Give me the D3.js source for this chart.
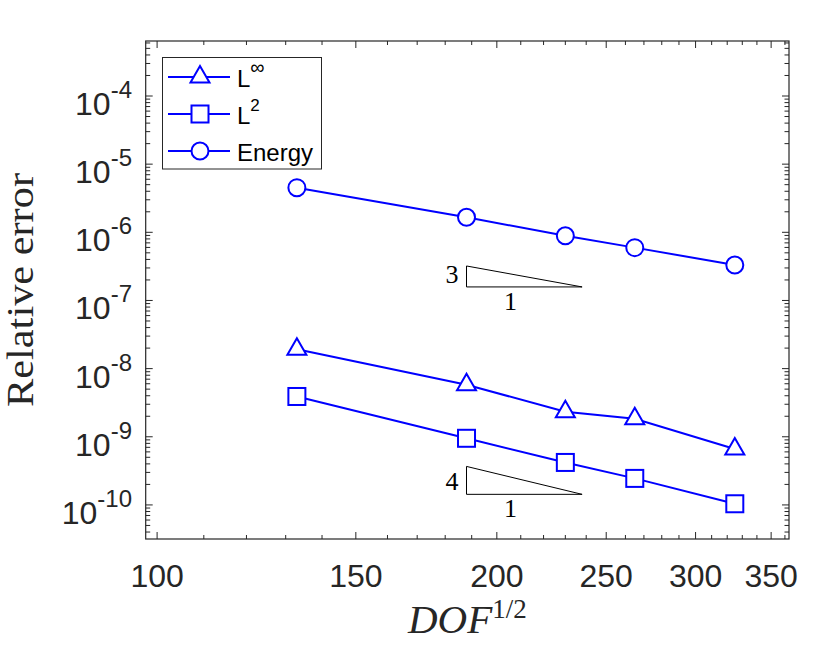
<!DOCTYPE html>
<html>
<head>
<meta charset="utf-8">
<script src="https://cdn.jsdelivr.net/npm/d3@7"></script>
<style>
  body { margin: 0; background: #fff; }
  svg { display: block; }
</style>
</head>
<body>
<svg id="chart" width="831" height="657"></svg>
<script>
// DOF^(1/2) for each refinement level
const dofSqrt = [133, 188, 230, 265, 325];
// relative errors
const errLinf = [1.92e-8, 5.8e-9, 2.33e-9, 1.84e-9, 6.6e-10];
const errL2 = [3.9e-9, 9.5e-10, 4.2e-10, 2.45e-10, 1.04e-10];
const errEnergy = [4.52e-6, 1.66e-6, 8.9e-7, 5.96e-7, 3.32e-7];

const xTickValues = [100, 150, 200, 250, 300, 350];
const yTickExps = [-10, -9, -8, -7, -6, -5, -4];

// slope reference triangles
const slopeTris = [
  { x0: 188, x1: 238, y0: 1.58e-7, order: 3 },
  { x0: 188, x1: 238, y0: 1.43e-10, order: 4 }
];

const series = [
  { name: "L", sup: "\u221e", marker: "tri", values: errLinf },
  { name: "L", sup: "2", marker: "sq", values: errL2 },
  { name: "Energy", sup: null, marker: "circ", values: errEnergy }
];

const box = { l: 145.7, r: 789, t: 41, b: 539 };
const ink = "#262626";
const blue = "#0000ff";

const svg = d3.select("#chart");

const x = d3.scaleLog().domain([97.7, 363]).range([box.l, box.r]);
const y = d3.scaleLog().domain([Math.pow(10, -10.5), Math.pow(10, -3.193)]).range([box.b, box.t]);

// ---- ticks (inward, on all four sides) ----
const minorX = d3.range(100, 370, 10).filter(v => xTickValues.indexOf(v) < 0 && x(v) < box.r);
let minorY = [];
for (let e = -11; e <= -4; e++) {
  for (let m = 2; m <= 9; m++) {
    const v = m * Math.pow(10, e);
    if (y(v) > box.t && y(v) < box.b) minorY.push(v);
  }
}

const ticks = svg.append("g").attr("stroke", ink).attr("stroke-width", 1);
function xTick(v, len) {
  const px = x(v);
  ticks.append("line").attr("x1", px).attr("x2", px).attr("y1", box.b).attr("y2", box.b - len);
  ticks.append("line").attr("x1", px).attr("x2", px).attr("y1", box.t).attr("y2", box.t + len);
}
function yTick(v, len) {
  const py = y(v);
  ticks.append("line").attr("y1", py).attr("y2", py).attr("x1", box.l).attr("x2", box.l + len);
  ticks.append("line").attr("y1", py).attr("y2", py).attr("x1", box.r).attr("x2", box.r - len);
}
xTickValues.forEach(v => xTick(v, 7));
minorX.forEach(v => xTick(v, 4));
yTickExps.forEach(e => yTick(Math.pow(10, e), 7));
minorY.forEach(v => yTick(v, 4.5));

// axis box
svg.append("rect")
  .attr("x", box.l).attr("y", box.t)
  .attr("width", box.r - box.l).attr("height", box.b - box.t)
  .attr("fill", "none").attr("stroke", ink).attr("stroke-width", 1.2);

// ---- tick labels ----
svg.append("g").selectAll("text").data(xTickValues).join("text")
  .attr("x", d => x(d)).attr("y", 587)
  .attr("text-anchor", "middle")
  .attr("font-family", "Liberation Sans, Arial, sans-serif")
  .attr("font-size", 32).attr("fill", ink)
  .text(d => d);

const yl = svg.append("g").selectAll("text").data(yTickExps).join("text")
  .attr("x", 132).attr("y", d => y(Math.pow(10, d)) + 19)
  .attr("text-anchor", "end")
  .attr("font-family", "Liberation Sans, Arial, sans-serif")
  .attr("font-size", 32).attr("fill", ink);
yl.append("tspan").text("10");
yl.append("tspan").attr("dy", -17).attr("font-size", 24).text(d => "-" + Math.abs(d));

// ---- axis titles ----
const xt = svg.append("text")
  .attr("x", (box.l + box.r) / 2).attr("y", 633)
  .attr("text-anchor", "middle")
  .attr("font-family", "Liberation Serif, Times New Roman, serif")
  .attr("font-size", 41).attr("fill", ink);
xt.append("tspan").attr("font-style", "italic").text("DOF");
xt.append("tspan").attr("dy", -15).attr("font-size", 27).text("1/2");

svg.append("text")
  .attr("transform", "translate(33,290) rotate(-90)")
  .attr("text-anchor", "middle")
  .attr("font-family", "Liberation Serif, Times New Roman, serif")
  .attr("font-size", 38).attr("fill", ink)
  .attr("textLength", 234).attr("lengthAdjust", "spacingAndGlyphs")
  .text("Relative error");

// ---- markers ----
function drawMarker(g, kind, cx, cy) {
  const common = s => s.attr("fill", "#fff").attr("stroke", blue).attr("stroke-width", 2);
  if (kind === "tri") {
    common(g.append("path").attr("d", `M${cx},${cy - 11}L${cx + 9.5},${cy + 5.5}L${cx - 9.5},${cy + 5.5}Z`));
  } else if (kind === "sq") {
    common(g.append("rect").attr("x", cx - 8.5).attr("y", cy - 8.5).attr("width", 17).attr("height", 17));
  } else {
    common(g.append("circle").attr("cx", cx).attr("cy", cy).attr("r", 8.5));
  }
}

const line = d3.line().x(d => x(d[0])).y(d => y(d[1]));
series.forEach(s => {
  const pts = dofSqrt.map((d, i) => [d, s.values[i]]);
  const g = svg.append("g");
  g.append("path").attr("d", line(pts))
    .attr("fill", "none").attr("stroke", blue).attr("stroke-width", 2);
  pts.forEach(p => drawMarker(g, s.marker, x(p[0]), y(p[1])));
});

// ---- slope triangles ----
slopeTris.forEach(t => {
  const yTop = t.y0 * Math.pow(t.x1 / t.x0, t.order);
  const g = svg.append("g");
  g.append("path")
    .attr("d", `M${x(t.x0)},${y(yTop)}L${x(t.x0)},${y(t.y0)}L${x(t.x1)},${y(t.y0)}Z`)
    .attr("fill", "none").attr("stroke", "#000").attr("stroke-width", 1);
  g.append("text")
    .attr("x", x(t.x0) - 8).attr("y", y(t.y0) - 4)
    .attr("text-anchor", "end")
    .attr("font-family", "Liberation Serif, Times New Roman, serif")
    .attr("font-size", 26).attr("fill", "#000")
    .text(t.order);
  g.append("text")
    .attr("x", x(t.x0) + 44).attr("y", y(t.y0) + 23)
    .attr("text-anchor", "middle")
    .attr("font-family", "Liberation Serif, Times New Roman, serif")
    .attr("font-size", 26).attr("fill", "#000")
    .text("1");
});

// ---- legend ----
const lg = svg.append("g");
lg.append("rect").attr("x", 162.5).attr("y", 57.5).attr("width", 159).attr("height", 111.5)
  .attr("fill", "#fff").attr("stroke", ink).attr("stroke-width", 1);
const rowY = [77, 114, 151];
series.forEach((s, i) => {
  const cy = rowY[i];
  lg.append("line").attr("x1", 168).attr("x2", 230).attr("y1", cy).attr("y2", cy)
    .attr("stroke", blue).attr("stroke-width", 2);
  drawMarker(lg, s.marker, 200, cy);
  const t = lg.append("text").attr("x", 237).attr("y", cy + 10)
    .attr("font-family", "Liberation Sans, Arial, sans-serif")
    .attr("font-size", 24).attr("fill", "#000");
  t.append("tspan").text(s.name);
  if (s.sup) t.append("tspan").attr("dy", -13).attr("font-size", s.sup === "2" ? 17 : 20).text(s.sup);
});
</script>
</body>
</html>
